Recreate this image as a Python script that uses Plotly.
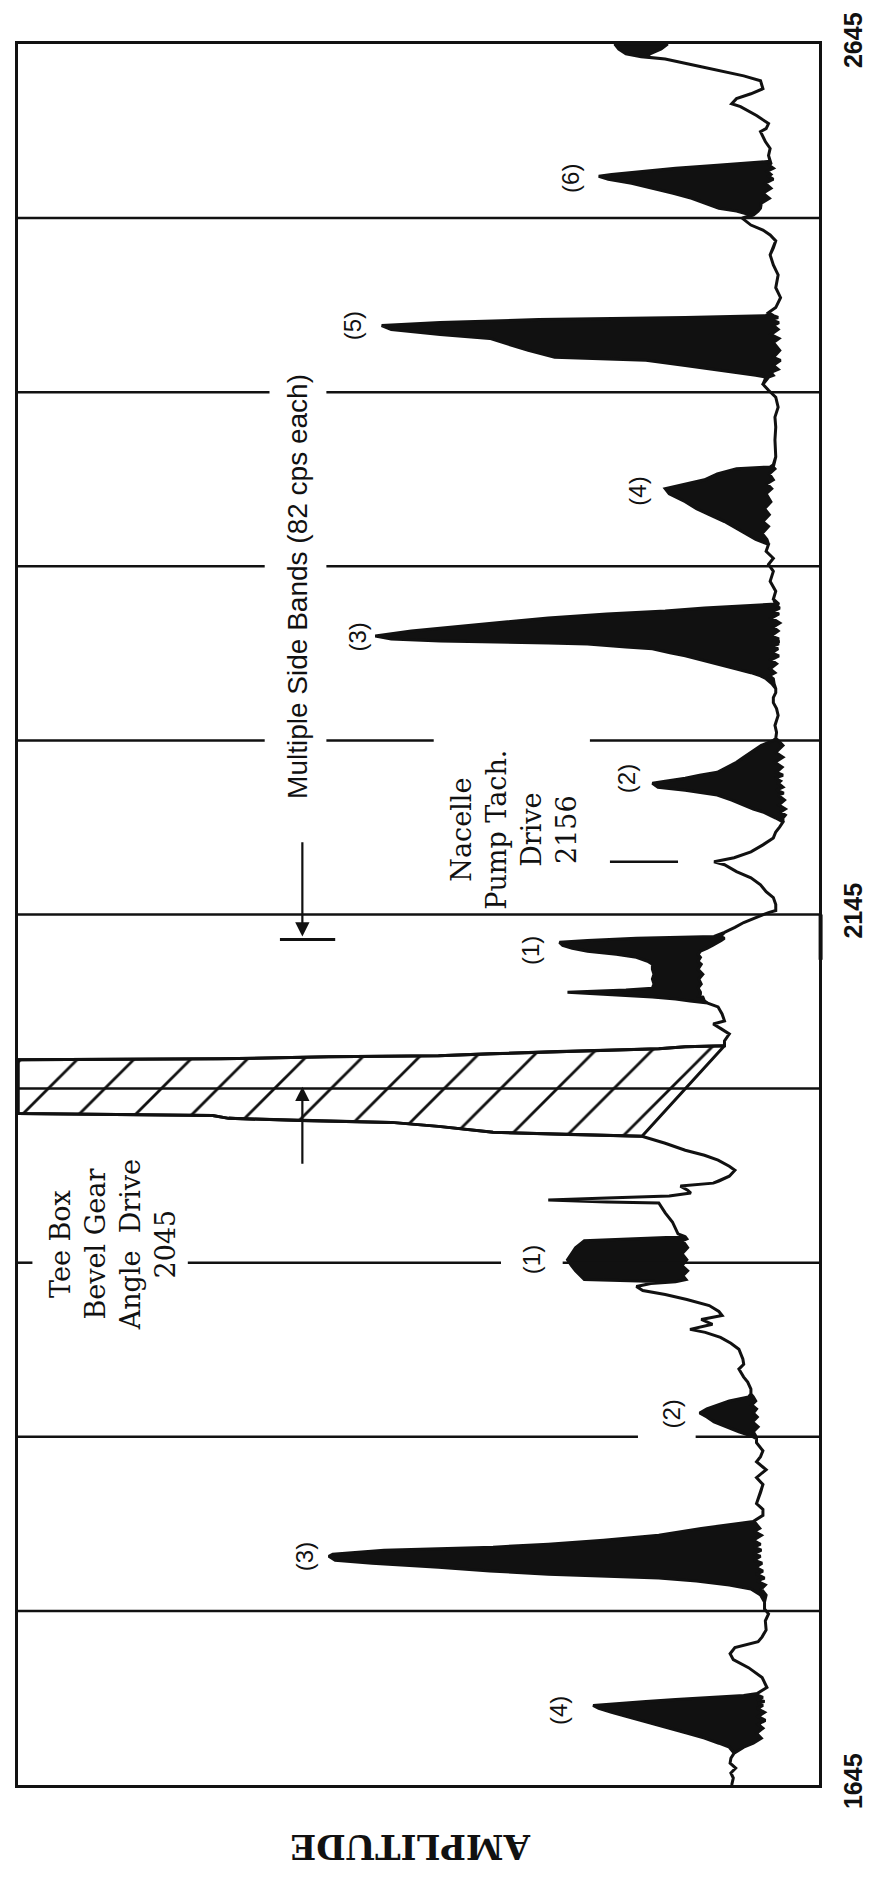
import plotly.graph_objects as go

# Spectrum trace.
# freq_cps: frequency (cps); amp_upper / amp_lower: outer and inner envelope of the
# pen trace in % of full scale (they differ only where the trace is a solid black band).
freq_cps = [
    1645.0, 1649.0, 1651.9, 1654.7, 1657.6, 1660.4, 1663.3, 1666.7, 1669.0, 1671.9,
    1674.7, 1677.6, 1679.9, 1682.1, 1684.4, 1686.7, 1689.0, 1690.7, 1691.9, 1693.0,
    1694.1, 1695.3, 1696.4, 1697.6, 1701.0, 1706.7, 1712.4, 1717.0, 1720.4, 1723.9,
    1727.3, 1730.1, 1734.1, 1739.3, 1743.3, 1746.1, 1750.1, 1754.1, 1757.6, 1759.9,
    1762.1, 1763.9, 1766.1, 1767.9, 1770.1, 1772.4, 1774.1, 1776.4, 1777.6, 1779.9,
    1781.6, 1783.3, 1785.6, 1788.4, 1790.7, 1792.4, 1795.3, 1796.4, 1799.9, 1803.3,
    1806.7, 1813.0, 1817.6, 1821.6, 1826.1, 1830.7, 1833.6, 1837.0, 1841.6, 1843.9,
    1845.6, 1847.9, 1850.7, 1853.6, 1856.4, 1858.7, 1861.0, 1863.3, 1865.6, 1867.9,
    1869.6, 1872.4, 1876.4, 1879.3, 1883.9, 1886.7, 1889.6, 1895.3, 1898.7, 1902.1,
    1905.0, 1906.7, 1909.6, 1912.4, 1914.7, 1917.0, 1920.4, 1923.9, 1926.7, 1929.0,
    1931.3, 1933.0, 1934.1, 1935.3, 1937.6, 1940.4, 1943.3, 1946.7, 1950.1, 1953.6,
    1957.6, 1958.7, 1959.9, 1961.6, 1968.4, 1973.6, 1979.3, 1979.9, 1981.0, 1982.1,
    1983.3, 1985.0, 1986.7, 1989.0, 1990.7, 1991.9, 1994.7, 1998.1, 2000.4, 2003.9,
    2006.7, 2009.6, 2013.6, 2017.6, 2018.7, 2019.9, 2023.3, 2025.6, 2026.7, 2027.9,
    2029.6, 2030.1, 2030.7, 2061.6, 2062.1, 2063.3, 2063.9, 2065.0, 2066.1, 2067.9,
    2069.0, 2069.6, 2072.4, 2076.4, 2079.3, 2082.1, 2083.9, 2087.9, 2091.9, 2094.1,
    2095.3, 2096.4, 2097.6, 2098.1, 2099.3, 2100.4, 2101.6, 2102.7, 2105.0, 2107.9,
    2110.7, 2113.6, 2116.4, 2118.1, 2120.4, 2122.1, 2123.9, 2125.6, 2127.3, 2129.0,
    2130.1, 2131.3, 2132.4, 2134.7, 2137.6, 2140.4, 2143.3, 2146.1, 2147.3, 2150.7,
    2154.7, 2158.1, 2162.1, 2166.1, 2169.6, 2173.6, 2175.3, 2177.6, 2181.0, 2185.0,
    2189.0, 2192.4, 2195.3, 2198.1, 2200.4, 2202.1, 2203.9, 2205.6, 2207.9, 2210.7,
    2213.6, 2214.7, 2216.4, 2218.1, 2220.4, 2221.6, 2223.3, 2225.0, 2226.7, 2229.6,
    2232.4, 2235.3, 2238.1, 2242.1, 2245.0, 2246.1, 2249.6, 2253.6, 2259.3, 2263.3,
    2266.7, 2269.6, 2272.4, 2274.7, 2277.6, 2280.4, 2282.1, 2283.9, 2286.1, 2289.0,
    2291.3, 2293.6, 2295.3, 2297.6, 2298.7, 2300.4, 2301.0, 2301.6, 2302.1, 2303.3,
    2305.0, 2307.9, 2310.1, 2312.4, 2315.3, 2317.6, 2319.3, 2321.0, 2322.7, 2323.3,
    2326.1, 2330.7, 2336.4, 2342.1, 2346.1, 2349.6, 2353.6, 2357.6, 2360.4, 2363.9,
    2367.9, 2370.7, 2374.7, 2378.1, 2382.1, 2386.7, 2389.6, 2392.4, 2394.7, 2398.1,
    2401.0, 2402.1, 2403.3, 2407.9, 2417.6, 2425.0, 2430.7, 2436.4, 2442.1, 2446.1,
    2449.6, 2453.6, 2454.7, 2456.4, 2458.1, 2460.4, 2463.3, 2465.0, 2469.0, 2473.6,
    2475.9, 2478.1, 2481.0, 2483.3, 2485.0, 2486.7, 2487.9, 2489.0, 2490.7, 2493.6,
    2499.3, 2505.0, 2512.4, 2518.1, 2523.9, 2527.9, 2531.9, 2535.3, 2538.1, 2541.0,
    2545.0, 2546.7, 2549.0, 2550.7, 2553.6, 2556.4, 2559.3, 2562.1, 2565.0, 2567.3,
    2569.0, 2570.1, 2571.9, 2573.6, 2575.3, 2576.4, 2577.6, 2581.0, 2585.0, 2589.0,
    2594.7, 2596.4, 2599.3, 2603.9, 2609.0, 2610.7, 2613.6, 2616.4, 2619.3, 2623.9,
    2626.7, 2631.9, 2636.4, 2637.6, 2639.3, 2642.1, 2645.0,
]
amp_upper = [
    10.9, 10.7, 11.0, 10.4, 11.1, 11.0, 10.6, 11.2, 12.5, 14.3,
    16.4, 18.6, 20.4, 22.2, 24.1, 25.9, 27.5, 28.2, 25.3, 21.6,
    17.9, 12.7, 9.4, 7.7, 6.5, 7.1, 8.8, 10.7, 11.1, 10.5,
    7.6, 7.1, 6.6, 6.7, 6.3, 6.8, 6.8, 7.3, 8.5, 11.2,
    15.3, 20.0, 33.8, 41.1, 47.5, 55.8, 60.4, 61.2, 60.7, 54.3,
    40.7, 33.8, 26.9, 20.0, 16.7, 14.7, 9.8, 8.2, 7.0, 7.0,
    7.8, 7.3, 7.0, 7.8, 6.6, 7.8, 7.3, 7.0, 7.8, 7.8,
    8.5, 10.0, 11.6, 13.1, 14.0, 14.9, 14.0, 12.7, 11.2, 8.8,
    8.5, 8.5, 8.9, 9.4, 10.0, 9.4, 9.5, 10.0, 11.0, 12.3,
    14.2, 16.1, 13.3, 14.7, 12.1, 12.5, 13.7, 16.5, 19.2, 22.0,
    22.8, 21.0, 19.2, 29.3, 29.8, 30.4, 30.9, 31.4, 30.9, 30.4,
    29.3, 22.8, 16.7, 17.6, 18.3, 19.2, 20.0, 26.5, 33.8, 26.5,
    18.7, 16.0, 16.4, 17.3, 13.2, 12.5, 11.2, 10.5, 11.2, 12.6,
    14.3, 16.7, 19.2, 22.1, 31.4, 40.7, 47.5, 53.4, 64.7, 73.7,
    75.7, 87.5, 100.0, 100.0, 74.8, 61.2, 47.5, 41.1, 33.8, 20.0,
    16.7, 11.8, 11.8, 11.2, 12.2, 13.2, 11.8, 12.1, 12.6, 13.9,
    16.1, 17.9, 20.8, 22.8, 26.5, 31.4, 24.1, 20.8, 20.6, 20.8,
    20.6, 20.8, 20.8, 21.4, 22.8, 25.3, 28.9, 30.8, 32.0, 32.4,
    28.9, 22.8, 13.1, 11.8, 10.5, 9.4, 7.8, 6.3, 5.4, 5.4,
    5.7, 6.6, 7.3, 8.5, 10.3, 11.8, 13.1, 10.6, 8.5, 7.0,
    5.7, 5.4, 4.9, 4.5, 5.4, 6.1, 7.0, 8.2, 9.4, 10.9,
    12.7, 14.3, 16.7, 20.1, 20.8, 19.2, 16.7, 14.9, 12.7, 11.5,
    10.3, 9.4, 8.5, 7.2, 5.7, 5.4, 5.3, 5.5, 5.1, 5.3,
    5.7, 5.7, 5.4, 5.4, 5.9, 6.6, 7.3, 8.5, 10.4, 12.7,
    14.7, 16.7, 18.6, 20.8, 24.1, 28.9, 33.8, 41.1, 47.3, 53.4,
    55.4, 50.9, 46.0, 41.1, 33.8, 26.5, 19.2, 14.3, 8.5, 5.4,
    5.7, 5.4, 6.1, 5.7, 6.3, 5.7, 6.6, 6.3, 7.9, 9.2,
    10.6, 11.8, 13.7, 15.3, 16.7, 18.7, 19.2, 16.7, 14.3, 12.7,
    10.3, 6.1, 5.7, 5.4, 5.5, 5.4, 5.5, 5.1, 5.4, 6.3,
    7.0, 6.6, 7.9, 10.6, 13.1, 16.7, 21.6, 33.0, 36.3, 39.6,
    41.1, 47.3, 53.4, 54.6, 47.3, 35.0, 16.7, 6.6, 6.3, 5.4,
    4.8, 5.4, 5.1, 5.7, 6.1, 5.7, 5.4, 6.1, 7.0, 8.5,
    9.6, 8.5, 10.3, 12.5, 14.3, 15.9, 18.2, 20.8, 23.4, 26.3,
    27.5, 25.9, 22.2, 17.9, 12.7, 9.4, 6.1, 6.3, 6.1, 6.7,
    7.3, 6.6, 6.3, 7.8, 9.8, 10.9, 10.3, 8.5, 7.0, 7.3,
    9.4, 14.7, 19.2, 22.2, 24.1, 25.0, 25.5,
]
amp_lower = [
    10.9, 10.7, 11.0, 10.4, 11.1, 11.0, 10.6, 9.4, 8.2, 7.2,
    7.8, 7.0, 7.6, 6.7, 7.6, 6.8, 7.7, 7.0, 7.6, 6.8,
    7.7, 7.0, 7.6, 7.7, 6.5, 7.1, 8.8, 10.7, 11.1, 10.5,
    7.6, 7.1, 6.6, 6.7, 6.3, 6.8, 6.8, 6.6, 7.2, 6.7,
    7.7, 6.8, 7.8, 7.0, 7.9, 7.1, 8.1, 7.3, 8.2, 7.2,
    8.1, 7.3, 8.2, 7.2, 8.1, 7.4, 7.9, 8.2, 7.0, 7.0,
    7.8, 7.3, 7.0, 7.8, 6.6, 7.8, 7.3, 7.0, 7.8, 7.8,
    7.9, 8.2, 7.6, 8.3, 7.7, 8.2, 7.8, 8.4, 7.9, 8.2,
    8.5, 8.5, 8.9, 9.4, 10.0, 9.4, 9.5, 10.0, 11.0, 12.3,
    14.2, 16.1, 13.3, 14.7, 12.1, 12.5, 13.7, 16.5, 19.2, 22.0,
    22.8, 21.0, 17.9, 16.6, 17.0, 16.4, 17.1, 16.5, 17.1, 16.4,
    17.0, 16.5, 16.7, 17.6, 18.3, 19.2, 20.0, 26.5, 33.8, 26.5,
    18.7, 16.0, 16.4, 17.3, 13.2, 12.5, 11.2, 10.5, 11.2, 12.6,
    14.3, 16.7, 19.2, 22.1, 31.4, 40.7, 47.5, 53.4, 64.7, 73.7,
    75.7, 87.5, 100.0, 100.0, 74.8, 61.2, 47.5, 41.1, 33.8, 20.0,
    16.7, 11.8, 11.8, 11.2, 12.2, 13.2, 11.8, 12.1, 12.6, 13.9,
    14.3, 14.4, 14.5, 15.0, 14.8, 14.8, 14.9, 15.1, 14.7, 15.0,
    14.5, 15.1, 14.7, 15.1, 14.8, 15.1, 14.8, 14.0, 13.3, 12.7,
    12.2, 11.8, 12.3, 11.8, 10.5, 9.4, 7.8, 6.3, 5.4, 5.4,
    5.7, 6.6, 7.3, 8.5, 10.3, 11.8, 13.1, 10.6, 8.5, 7.0,
    5.7, 5.4, 4.9, 4.5, 4.5, 4.2, 4.8, 4.2, 5.0, 4.3,
    5.1, 4.4, 5.3, 4.5, 5.1, 4.8, 5.5, 4.5, 5.3, 4.6,
    5.5, 4.5, 5.4, 4.5, 5.1, 5.4, 5.3, 5.5, 5.1, 5.3,
    5.7, 5.7, 5.4, 5.4, 5.6, 5.7, 6.2, 5.5, 6.1, 5.3,
    6.0, 5.0, 5.9, 5.1, 6.0, 5.0, 5.9, 4.9, 5.7, 5.0,
    6.0, 5.1, 5.7, 4.9, 5.9, 5.0, 5.7, 4.9, 5.5, 5.0,
    5.7, 5.4, 6.1, 5.7, 6.3, 5.7, 6.6, 6.3, 6.5, 7.1,
    6.3, 7.0, 6.2, 6.8, 6.0, 6.6, 5.9, 6.5, 5.7, 6.2,
    5.5, 5.7, 5.7, 5.4, 5.5, 5.4, 5.5, 5.1, 5.4, 6.3,
    7.0, 6.3, 5.7, 6.0, 5.1, 5.7, 4.8, 5.7, 4.9, 5.7,
    5.0, 6.0, 5.1, 5.7, 5.0, 6.0, 5.1, 5.7, 6.3, 5.4,
    4.8, 5.4, 5.1, 5.7, 6.1, 5.7, 5.4, 6.1, 7.0, 8.5,
    9.6, 8.2, 7.6, 7.3, 7.2, 6.2, 7.0, 6.0, 6.7, 5.7,
    6.3, 6.0, 6.5, 5.7, 6.2, 6.0, 6.1, 6.3, 6.1, 6.7,
    7.3, 6.6, 6.3, 7.8, 9.8, 10.9, 10.3, 8.5, 7.0, 7.3,
    9.4, 14.7, 19.2, 21.6, 21.1, 19.7, 18.9,
]

# Frequency span over which the 2045 cps peak runs off scale (drawn hatched)
offscale_cps = (2017.6, 2069.6)

# 100 cps frequency grid
grid_cps = [1745, 1845, 1945, 2045, 2145, 2245, 2345, 2445, 2545]

# Side band orders and where their labels sit (cps, % amplitude)
band_text = ["(6)", "(5)", "(4)", "(3)", "(2)", "(1)", "(1)", "(2)", "(3)", "(4)"]
band_cps = [2567.9, 2483.3, 2388.4, 2304.4, 2223.3, 2124.4, 1946.7, 1858.1, 1776.4, 1687.9]
band_amp = [31.0, 58.2, 22.6, 57.6, 24.1, 36.0, 35.9, 18.4, 64.3, 32.5]

# Nacelle pump tach drive marker
nacelle_mark_cps = 2175.3

freq_ticks = [1645, 2145, 2645]

BLACK = "#111111"
SANS = "Liberation Sans, Arial, sans-serif"
SERIF = "DejaVu Serif, serif"

fig = go.Figure()

# Off-scale region of the main peak, hatched
lo_f, hi_f = offscale_cps
sel = [i for i, f in enumerate(freq_cps) if lo_f <= f <= hi_f]
hatch_x = [amp_upper[i] for i in sel] + [amp_upper[sel[0]]]
hatch_y = [freq_cps[i] for i in sel] + [freq_cps[sel[0]]]
fig.add_trace(go.Scatter(
    x=hatch_x, y=hatch_y, mode="lines", fill="toself",
    fillcolor="white",
    fillpattern=dict(shape="/", fgcolor=BLACK, bgcolor="white",
                     size=40, solidity=0.07, fillmode="replace"),
    line=dict(color=BLACK, width=3), hoverinfo="skip", showlegend=False,
))

# Spectrum trace: outline of the band between the two envelopes, filled black
fig.add_trace(go.Scatter(
    x=amp_upper + amp_lower[::-1],
    y=freq_cps + freq_cps[::-1],
    mode="lines", fill="toself", fillcolor=BLACK,
    line=dict(color=BLACK, width=3), hoverinfo="skip", showlegend=False,
))

# Grid lines, broken where labels cross them (amplitude from -> to)
grid_runs = {
    2545: [(100, 0)],
    2445: [(100, 68.6), (61.5, 0)],
    2345: [(100, 69.2), (61.5, 0)],
    2245: [(100, 69.2), (61.5, 48.1), (28.6, 0)],
    2145: [(100, 0)],
    2045: [(100, 0)],
    1945: [(100, 98.2), (78.8, 39.7), (32.0, 0)],
    1845: [(100, 22.6), (15.4, 0)],
    1745: [(100, 0)],
}
shapes = []
for f in grid_cps:
    for a0, a1 in grid_runs[f]:
        shapes.append(dict(type="line", xref="x", yref="y", x0=a0, x1=a1, y0=f, y1=f,
                           line=dict(color=BLACK, width=2.5)))

# short marker for the nacelle drive
shapes.append(dict(type="line", xref="x", yref="y", x0=26.1, x1=17.6,
                   y0=nacelle_mark_cps, y1=nacelle_mark_cps,
                   line=dict(color=BLACK, width=2.5)))
# stop bar of the side band arrow
shapes.append(dict(type="line", xref="x", yref="y", x0=67.3, x1=60.4,
                   y0=2130.7, y1=2130.7, line=dict(color=BLACK, width=3)))
# heavier stroke on the frame just below 2145
shapes.append(dict(type="line", xref="paper", yref="y", x0=1.002, x1=1.002,
                   y0=2145, y1=2119, line=dict(color=BLACK, width=4)))

annotations = []
for t, f, a in zip(band_text, band_cps, band_amp):
    annotations.append(dict(x=a, y=f, xref="x", yref="y", text=t, showarrow=False,
                            textangle=-90, font=dict(family=SANS, size=24, color=BLACK)))

annotations += [
    dict(x=65.2, y=2333.6, xref="x", yref="y", showarrow=False, textangle=-90,
         text="Multiple Side Bands (82 cps each)",
         font=dict(family=SANS, size=28, color=BLACK)),
    dict(x=88.2, y=1955.3, xref="x", yref="y", showarrow=False, textangle=-90,
         text="Tee Box<br>Bevel Gear<br>Angle  Drive<br>2045", align="center",
         font=dict(family=SERIF, size=27, color=BLACK)),
    dict(x=38.1, y=2193.6, xref="x", yref="y", showarrow=False, textangle=-90,
         text="Nacelle<br>Pump Tach.<br>Drive<br>2156", align="center",
         font=dict(family=SERIF, size=27, color=BLACK)),
    # side band spacing arrows
    dict(x=64.5, y=2132.4, ax=64.5, ay=2187.3, xref="x", yref="y", axref="x", ayref="y",
         text="", showarrow=True, arrowhead=2, arrowsize=1.3, arrowwidth=2.2,
         arrowcolor=BLACK),
    dict(x=64.5, y=2046.1, ax=64.5, ay=2001.0, xref="x", yref="y", axref="x", ayref="y",
         text="", showarrow=True, arrowhead=2, arrowsize=1.3, arrowwidth=2.2,
         arrowcolor=BLACK),
    dict(x=0.49, y=-0.0486, xref="paper", yref="paper", showarrow=False, textangle=180,
         text="<b>AMPLITUDE</b>", font=dict(family="DejaVu Serif, serif",
                                             size=34, color=BLACK)),
]

fig.update_layout(
    width=879, height=1889,
    margin=dict(l=18, r=42, t=35, b=104),
    paper_bgcolor="white", plot_bgcolor="white",
    shapes=shapes, annotations=annotations,
    xaxis=dict(range=[100, 0], showticklabels=False, showgrid=False, zeroline=False,
               showline=True, mirror=True, linecolor=BLACK, linewidth=3, ticks=""),
    yaxis=dict(range=[1645, 2645], side="right", tickvals=freq_ticks,
               ticktext=[str(v) for v in freq_ticks], tickangle=-90,
               tickfont=dict(family=SANS, size=25, color=BLACK, weight="bold"),
               ticklabelstandoff=10,
               showgrid=False, zeroline=False, showline=True, mirror=True,
               linecolor=BLACK, linewidth=3, ticks=""),
)

fig.write_html("out.html")
